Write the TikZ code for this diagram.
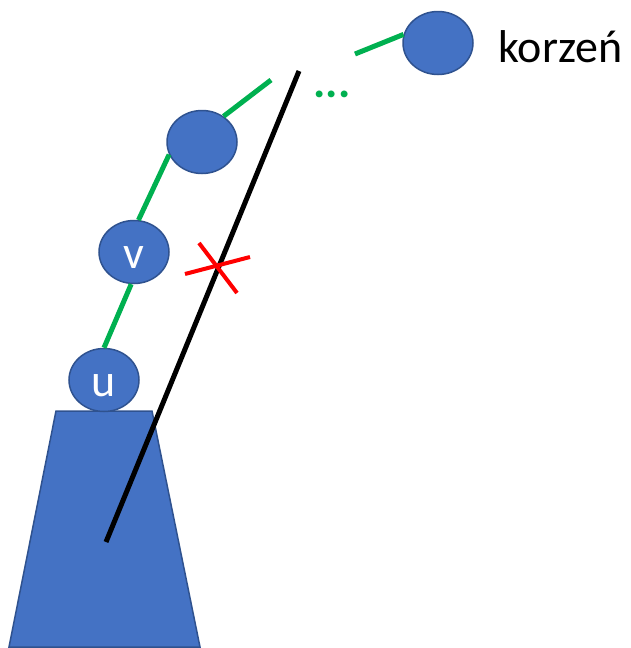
\documentclass[tikz,border=0pt]{standalone}
\usepackage{fontspec}
\setmainfont{Carlito}
\usepackage{xcolor}
\usetikzlibrary{shapes.geometric}
\definecolor{nodeblue}{HTML}{4472C4}
\definecolor{edgeblue}{HTML}{2F528F}
\definecolor{pathgreen}{HTML}{00B050}

\begin{document}
\begin{tikzpicture}[x=1pt,y=-1pt,
    vert/.style={ellipse,fill=nodeblue,draw=edgeblue,line width=1.5pt,
      minimum width=70pt,minimum height=63pt,inner sep=0pt,text=white,
      font=\fontsize{46}{50}\selectfont,text height=33pt,text depth=0pt},
    treeedge/.style={pathgreen,line width=5pt},
    cutline/.style={black,line width=5pt},
    cross/.style={red,line width=4pt}]
  \useasboundingbox (0,0) rectangle (631,648);
  % base
  \filldraw[fill=nodeblue,draw=edgeblue,line width=1.5pt]
    (56,411) -- (152,411) -- (200,647) -- (9,647) -- cycle;
  % vertices
  \node[vert] (u) at (104,380) {u};
  \node[vert] (v) at (134,252) {v};
  \node[vert] (mid) at (202,142) {};
  \node[vert] (root) at (438,43) {};
  \node[anchor=base west,font=\fontsize{46}{50}\selectfont] (rootlabel) at (495,62) {korzeń};
  % path to the root
  \coordinate (stubA) at (271,80);
  \coordinate (stubB) at (355,54);
  \draw[treeedge] (u.90) -- (v.265);
  \draw[treeedge] (v.82) -- (mid.201);
  \draw[treeedge] (mid.50) -- (stubA);
  \draw[treeedge] (stubB) -- (root.166);
  \node[pathgreen,font=\fontsize{46}{50}\selectfont\bfseries] (dots) at (332,94) {...};
  % cut line
  \coordinate (cutlow) at (106,542);
  \coordinate (cuthigh) at (299,71);
  \draw[cutline] (cutlow) -- (cuthigh);
  % cross
  \coordinate (xa) at (185,274);
  \coordinate (xb) at (250,257);
  \coordinate (xc) at (199,243);
  \coordinate (xd) at (237,293);
  \draw[cross] (xa) -- (xb);
  \draw[cross] (xc) -- (xd);
\end{tikzpicture}
\end{document}
